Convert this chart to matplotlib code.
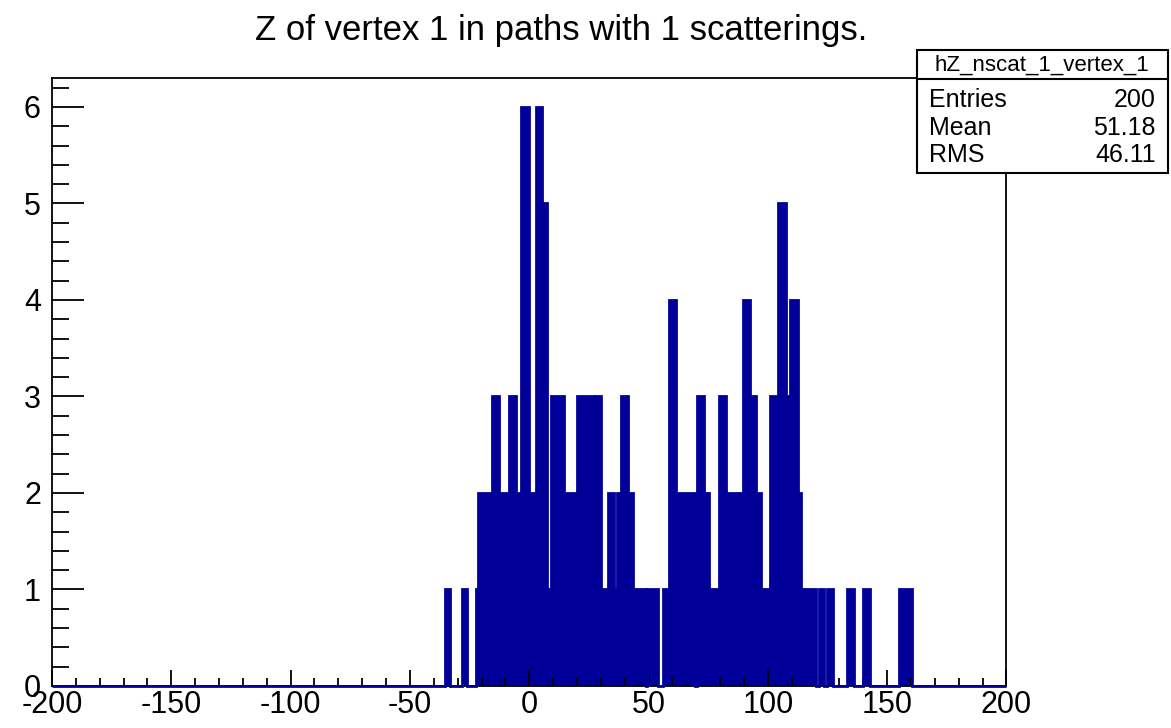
import matplotlib
matplotlib.use("Agg")
import matplotlib.pyplot as plt
from matplotlib.patches import Rectangle
from matplotlib.ticker import MultipleLocator

# histogram: bin edges (z) and counts per bin
EDGES = [-200, -35.5, -33, -28, -26, -22.5, -21.3, -15.5, -12.7, -8.6, -5.7,
         -3.6, -0.3, 2.7, 5.5, 7.6, 9, 14.6, 19.5, 20.2, 27.2, 27.6, 30,
         32.9, 35.6, 36.6, 38.4, 41.3, 43.4, 48.8, 49.4, 53.9, 55.9, 58.7,
         61.6, 69.4, 70.4, 73.4, 75.5, 79.7, 82.6, 89.6, 92.6, 95.2, 97.3,
         100.8, 104.3, 107.8, 109.2, 112.7, 114.1, 120, 121.6, 123.7, 124.6,
         127.5, 133, 136, 140, 142.6, 155, 160.3, 200]
COUNTS = [0, 1, 0, 1, 0, 1, 2, 3, 2, 3,
          2, 6, 2, 6, 5, 1, 3, 2, 1, 3, 2, 3,
          1, 2, 1, 2, 3, 2, 1, 0, 1, 0, 1,
          4, 2, 0, 3, 2, 1, 3, 2, 4, 3, 2,
          1, 3, 5, 3, 4, 2, 1, 0, 1, 0,
          1, 0, 1, 0, 1, 0, 1, 0]

HIST_NAME = "hZ_nscat_1_vertex_1"
STAT_NAMES = ["Entries", "Mean", "RMS"]
STAT_VALUES = ["200", "51.18", "46.11"]
TITLE = "Z of vertex 1 in paths with 1 scatterings."

NAVY = "#000099"
plt.rcParams["font.family"] = ["Liberation Sans", "DejaVu Sans"]
plt.rcParams["axes.unicode_minus"] = False

fig = plt.figure(figsize=(11.71, 7.28), dpi=100)
ax = fig.add_axes([0.0444, 0.0577, 0.8151, 0.8352])

ax.stairs(COUNTS, EDGES, fill=True, color=NAVY, linewidth=0)
ax.stairs(COUNTS, EDGES, color=NAVY, linewidth=2, clip_on=False, zorder=3)

ax.set_xlim(-200, 200)
ax.set_ylim(0, 6.3)
ax.xaxis.set_major_locator(MultipleLocator(50))
ax.xaxis.set_minor_locator(MultipleLocator(10))
ax.yaxis.set_major_locator(MultipleLocator(1))
ax.yaxis.set_minor_locator(MultipleLocator(0.2))
ax.tick_params(axis="x", which="major", direction="in", length=11.5, width=1.3,
               labelsize=22, pad=3)
ax.tick_params(axis="x", which="minor", direction="in", length=5.5, width=1.3)
ax.tick_params(axis="y", which="major", direction="in", length=23, width=1.3,
               labelsize=22, pad=8)
ax.tick_params(axis="y", which="minor", direction="in", length=12, width=1.3)
for s in ax.spines.values():
    s.set_linewidth(1.3)

fig.text(0.479, 0.958, TITLE, ha="center", va="center", fontsize=25)

# stats box
box = Rectangle((0.783, 0.7624), 0.2144, 0.1689, transform=fig.transFigure,
                facecolor="white", edgecolor="black", linewidth=1.5, zorder=5)
fig.patches.append(box)
fig.add_artist(plt.Line2D([0.783, 0.9974], [0.8915, 0.8915],
                          transform=fig.transFigure, color="black", linewidth=1.5, zorder=6))
fig.text(0.89, 0.910, HIST_NAME, ha="center", va="center", fontsize=16, zorder=7)
row_y = [0.8626, 0.8242, 0.787]
for name, val, y in zip(STAT_NAMES, STAT_VALUES, row_y):
    fig.text(0.7935, y, name, ha="left", va="center", fontsize=18, zorder=7)
    fig.text(0.987, y, val, ha="right", va="center", fontsize=18, zorder=7)

fig.savefig("out.png", dpi=100)
